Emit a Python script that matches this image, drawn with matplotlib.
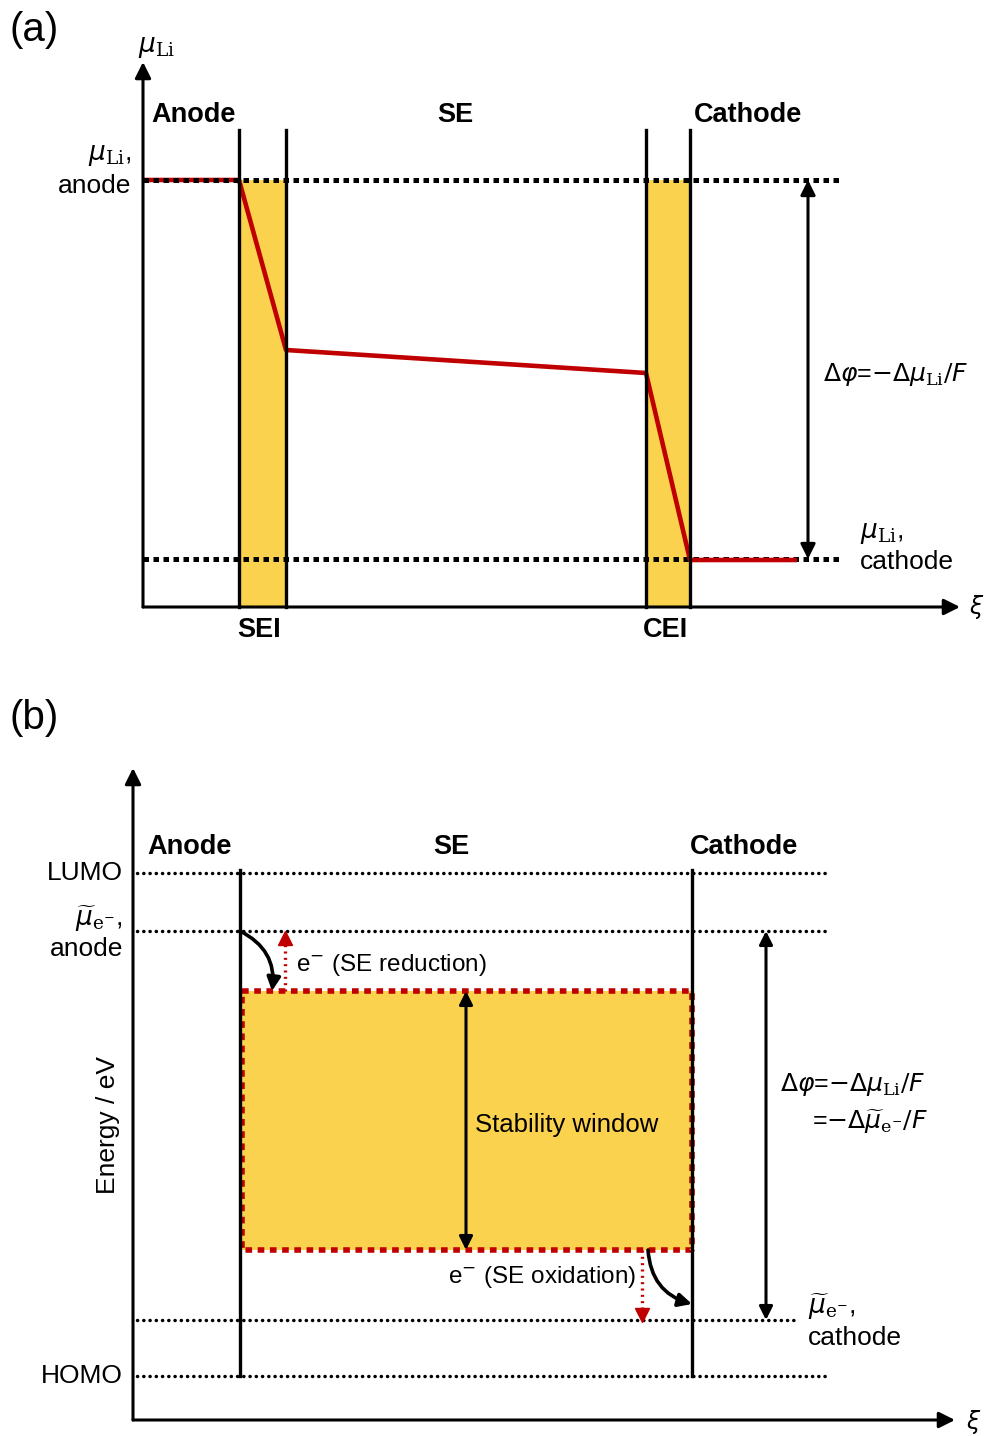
import matplotlib.pyplot as plt
from matplotlib.patches import FancyArrowPatch, Rectangle

plt.rcParams['font.family'] = ['Liberation Sans', 'DejaVu Sans']
plt.rcParams['mathtext.fontset'] = 'custom'
plt.rcParams['mathtext.rm'] = 'DejaVu Serif'
plt.rcParams['mathtext.it'] = 'DejaVu Sans:italic'
plt.rcParams['mathtext.sf'] = 'DejaVu Sans'

# ---- panel (a) geometry (pixel coordinates of the schematic) ----
a_origin = (143, 607)
a_axis_ends = (960, 62)
a_interfaces = [239, 286, 646, 690]      # SEI left/right, CEI left/right
a_wall_top = 130
a_anode_level = 180
a_cathode_level = 559
a_dot_end = 840
# red potential profile
a_profile_x = [143, 239, 286, 646, 690, 797]
a_profile_y = [180, 180, 350, 373, 560, 560]
a_dphi_x = 808
a_region_labels = ['Anode', 'SE', 'Cathode']
a_region_x = [151, 437, 694]
a_interface_labels = ['SEI', 'CEI']
a_interface_x = [259, 666]

# ---- panel (b) geometry ----
b_origin = (133, 1420)
b_axis_ends = (955, 768)
b_walls = [240, 692]
b_wall_span = (870, 1376)
b_level_names = ['LUMO', 'anode', 'cathode', 'HOMO']
b_levels = [873, 931, 1320, 1376]
b_level_ends = [828, 828, 795, 825]
b_window = (242, 991, 692, 1250)         # x0, y_top, x1, y_bottom
b_window_arrow_x = 466
b_dphi_x = 766
b_region_labels = ['Anode', 'SE', 'Cathode']
b_region_x = [147, 433, 690]

gold = '#FBD24E'
red = '#C00000'
fs = 19
fs_bold = 19.5

fig = plt.figure(figsize=(9.87, 14.36), dpi=100)
ax = fig.add_axes([0, 0, 1, 1])
ax.set_xlim(0, 987)
ax.set_ylim(1436, 0)
ax.axis('off')


def arrow(p0, p1, style='-|>', lw=2.2, scale=22, color='k', rad=0.0, z=5):
    ap = FancyArrowPatch(p0, p1, arrowstyle=style, mutation_scale=scale, lw=lw,
                         color=color, shrinkA=0, shrinkB=0, zorder=z,
                         connectionstyle='arc3,rad=%s' % rad)
    ax.add_patch(ap)


# ================= panel (a) =================
ax.text(10, 30, '(a)', fontsize=29, va='center', ha='left')
arrow(a_origin, (a_origin[0], a_axis_ends[1]), scale=24)
arrow(a_origin, (a_axis_ends[0], a_origin[1]), scale=24)
ax.text(138, 47, r'$\mu_{\mathrm{Li}}$', fontsize=fs, va='center', ha='left')
ax.text(969, 607, r'$\xi$', fontsize=17, va='center', ha='left')

for x0, x1 in [(a_interfaces[0], a_interfaces[1]), (a_interfaces[2], a_interfaces[3])]:
    ax.add_patch(Rectangle((x0, a_anode_level), x1 - x0, a_origin[1] - a_anode_level,
                           facecolor=gold, edgecolor='none', zorder=1))
for x in a_interfaces:
    ax.plot([x, x], [a_wall_top, a_origin[1]], color='k', lw=2.4, zorder=4)

ax.plot([a_origin[0], a_dot_end], [a_cathode_level, a_cathode_level], color='k', lw=3.6,
        ls=(0, (1.1, 0.9)), zorder=2)
ax.plot(a_profile_x, a_profile_y, color=red, lw=3.3, zorder=3, solid_capstyle='butt')
ax.plot([a_origin[0], a_dot_end], [a_anode_level, a_anode_level], color='k', lw=3.6,
        ls=(0, (1.1, 0.9)), zorder=3.5)

arrow((a_dphi_x, a_anode_level), (a_dphi_x, a_cathode_level), style='<|-|>', lw=2.2, scale=22)

for lab, x in zip(a_region_labels, a_region_x):
    ax.text(x, 115, lab, fontsize=fs_bold, fontweight='bold', va='center', ha='left')
for lab, x in zip(a_interface_labels, a_interface_x):
    ax.text(x, 630, lab, fontsize=fs_bold, fontweight='bold', va='center', ha='center')

ax.text(131, 156, r'$\mu_{\mathrm{Li}}$,', fontsize=fs, va='center', ha='right')
ax.text(131, 186, 'anode', fontsize=fs, va='center', ha='right')
ax.text(823, 375, r'$\mathsf{\Delta}\varphi$=$-\mathsf{\Delta}\mu_{\mathrm{Li}}/F$', fontsize=18,
        va='center', ha='left')
ax.text(860, 533, r'$\mu_{\mathrm{Li}}$,', fontsize=fs, va='center', ha='left')
ax.text(860, 562, 'cathode', fontsize=fs, va='center', ha='left')

# ================= panel (b) =================
ax.text(10, 718, '(b)', fontsize=29, va='center', ha='left')
arrow(b_origin, (b_origin[0], b_axis_ends[1]), scale=24)
arrow(b_origin, (b_axis_ends[0], b_origin[1]), scale=24)
ax.text(966, 1422, r'$\xi$', fontsize=17, va='center', ha='left')
ax.text(108, 1125, 'Energy / eV', fontsize=fs, rotation=90, va='center', ha='center')

for y, xe in zip(b_levels, b_level_ends):
    ax.plot([137, xe], [y, y], color='k', lw=2.5, ls=(0, (0.05, 1.75)),
            dash_capstyle='round', zorder=2)
for x in b_walls:
    ax.plot([x, x], list(b_wall_span), color='k', lw=2.4, zorder=4)

x0, yt, x1, yb = b_window
ax.add_patch(Rectangle((x0, yt), x1 - x0, yb - yt, facecolor=gold, edgecolor='none', zorder=1))
ax.plot([x0, x1, x1, x0, x0], [yt, yt, yb, yb, yt], color=red, lw=4.0,
        ls=(0, (1.2, 1.0)), zorder=3)

arrow((b_window_arrow_x, yt), (b_window_arrow_x, yb), style='<|-|>', lw=2.2, scale=20)
ax.text(475, 1125, 'Stability window', fontsize=18.5, va='center', ha='left')
arrow((b_dphi_x, b_levels[1]), (b_dphi_x, b_levels[2]), style='<|-|>', lw=2.2, scale=20)

# electron transfer arrows
arrow((b_walls[0], b_levels[1]), (272, yt), lw=2.6, scale=20, rad=-0.35)
arrow((648, yb), (b_walls[1], 1304), lw=2.6, scale=20, rad=0.35)
ax.plot([285, 285], [yt, b_levels[1] + 12], color=red, lw=2.4, ls=(0, (0.6, 1.3)), zorder=3)
ax.plot([285], [b_levels[1] + 7], marker='^', color=red, ms=10, zorder=3)
ax.plot([642, 642], [yb, b_levels[2] - 10], color=red, lw=2.4, ls=(0, (0.6, 1.3)), zorder=3)
ax.plot([642], [b_levels[2] - 5], marker='v', color=red, ms=10, zorder=3)
ax.text(296, 965, r'e$^{-}$ (SE reduction)', fontsize=17.5, va='center', ha='left')
ax.text(448, 1277, r'e$^{-}$ (SE oxidation)', fontsize=17.5, va='center', ha='left')

for lab, x in zip(b_region_labels, b_region_x):
    ax.text(x, 847, lab, fontsize=fs_bold, fontweight='bold', va='center', ha='left')

ax.text(123, b_levels[0], 'LUMO', fontsize=fs, va='center', ha='right')
ax.text(123, 919, r'$\widetilde{\mu}_{\mathrm{e}^{-}}$,', fontsize=fs, va='center', ha='right')
ax.text(123, 949, 'anode', fontsize=fs, va='center', ha='right')
ax.text(123, b_levels[3], 'HOMO', fontsize=fs, va='center', ha='right')
ax.text(808, 1307, r'$\widetilde{\mu}_{\mathrm{e}^{-}}$,', fontsize=fs, va='center', ha='left')
ax.text(808, 1338, 'cathode', fontsize=fs, va='center', ha='left')
ax.text(780, 1085, r'$\mathsf{\Delta}\varphi$=$-\mathsf{\Delta}\mu_{\mathrm{Li}}/F$', fontsize=18,
        va='center', ha='left')
ax.text(812, 1122, r'=$-\mathsf{\Delta}\widetilde{\mu}_{\mathrm{e}^{-}}/F$', fontsize=18,
        va='center', ha='left')

fig.savefig('out.png', dpi=100)
